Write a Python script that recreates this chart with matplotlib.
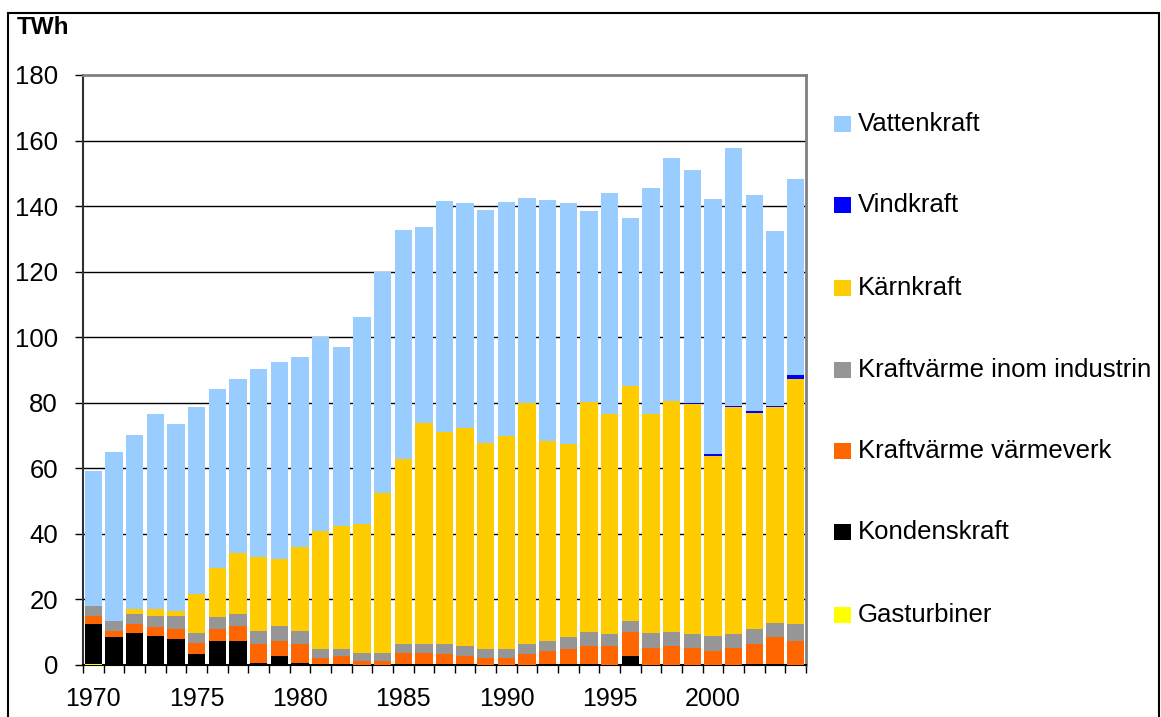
import matplotlib
matplotlib.use("Agg")
import matplotlib.pyplot as plt
import numpy as np
from matplotlib.patches import Rectangle

years = list(range(1970, 2005))

gasturbiner = [0.3, 0, 0, 0, 0, 0, 0, 0, 0, 0,
               0, 0, 0, 0, 0, 0, 0, 0, 0, 0,
               0, 0, 0, 0, 0, 0, 0, 0, 0, 0,
               0, 0, 0, 0, 0]
kondenskraft = [12.2, 8.5, 9.8, 8.9, 7.9, 3.4, 7.3, 7.3, 0.6, 2.7,
                0.6, 0.3, 0.3, 0.1, 0.1, 0.3, 0.3, 0.3, 0.3, 0.1,
                0.1, 0.1, 0.3, 0.3, 0.3, 0.1, 2.7, 0.1, 0.1, 0.1,
                0.1, 0.1, 0.3, 0.3, 0.1]
kv_varmeverk = [2.6, 1.9, 2.8, 2.7, 3.1, 3.3, 3.7, 4.6, 5.8, 4.6,
                5.8, 1.9, 2.4, 1.1, 1.1, 3.4, 3.4, 3.1, 2.4, 2.0,
                2.0, 3.3, 4.0, 4.6, 5.5, 5.7, 7.4, 5.1, 5.7, 5.1,
                4.2, 5.1, 6.1, 8.2, 7.2]
kv_industri = [2.9, 3.0, 3.0, 3.4, 4.0, 3.1, 3.6, 3.7, 4.0, 4.6,
               4.0, 2.7, 2.2, 2.5, 2.5, 2.7, 2.7, 3.0, 3.1, 2.8,
               2.8, 3.0, 3.0, 3.6, 4.3, 3.7, 3.3, 4.6, 4.3, 4.3,
               4.6, 4.3, 4.6, 4.3, 5.2]
karnkraft = [0, 0, 1.5, 2.1, 1.5, 12.0, 15.1, 18.6, 22.4, 20.4,
             25.6, 36.0, 37.6, 39.4, 48.8, 56.3, 67.3, 64.7, 66.5, 62.7,
             64.9, 73.4, 60.9, 58.9, 70.1, 67.0, 71.7, 66.9, 70.3, 70.0,
             54.9, 69.1, 66.0, 65.8, 74.9]
vindkraft = [0, 0, 0, 0, 0, 0, 0, 0, 0, 0,
             0, 0, 0, 0, 0, 0, 0, 0, 0, 0,
             0, 0, 0, 0, 0, 0, 0, 0, 0, 0.3,
             0.5, 0.4, 0.4, 0.4, 1.2]
vattenkraft = [41.1, 51.5, 53.0, 59.4, 57.0, 56.8, 54.4, 53.0, 57.5, 60.1,
               58.0, 59.1, 54.4, 63.0, 67.3, 70.0, 59.9, 70.6, 68.7, 71.3,
               71.5, 62.7, 73.7, 73.6, 58.4, 67.6, 51.3, 68.9, 74.3, 71.3,
               77.9, 78.8, 66.1, 53.5, 59.7]

series = [
    ("Gasturbiner", gasturbiner, "#FFFF00"),
    ("Kondenskraft", kondenskraft, "#000000"),
    ("Kraftvärme värmeverk", kv_varmeverk, "#FF6600"),
    ("Kraftvärme inom industrin", kv_industri, "#969696"),
    ("Kärnkraft", karnkraft, "#FFCC00"),
    ("Vindkraft", vindkraft, "#0000FF"),
    ("Vattenkraft", vattenkraft, "#99CCFF"),
]
legend_order = ["Vattenkraft", "Vindkraft", "Kärnkraft", "Kraftvärme inom industrin",
                "Kraftvärme värmeverk", "Kondenskraft", "Gasturbiner"]
year_labels = ["1970", "1975", "1980", "1985", "1990", "1995", "2000"]

plt.rcParams['font.family'] = ['Liberation Sans', 'DejaVu Sans']

W, H = 1161, 717
fig = plt.figure(figsize=(W / 100, H / 100), dpi=100)

def fx(px):
    return px / W

def fy(py):
    return 1 - py / H

# outer frame
fig.patches.append(Rectangle((fx(8), fy(740)), fx(1159) - fx(8), fy(13) - fy(740),
                             transform=fig.transFigure, fill=False,
                             edgecolor="black", linewidth=1.5))

ax = fig.add_axes([fx(83), fy(665), fx(806) - fx(83), fy(75) - fy(665)])

x = np.arange(len(years))
bottom = np.zeros(len(years))
for name, vals, col in series:
    v = np.array(vals, dtype=float)
    ax.bar(x, v, bottom=bottom, width=0.84, color=col, linewidth=0, zorder=3)
    bottom += v

ax.set_xlim(-0.5, len(years) - 0.5)
ax.set_ylim(0, 180)
ax.set_yticks(np.arange(0, 181, 20))
for yv in range(20, 180, 20):
    ax.axhline(yv, color="black", linewidth=1.0, zorder=2)

ax.set_xticks([years.index(int(s)) for s in year_labels])
ax.set_xticklabels(year_labels)
ax.set_xticks(np.arange(-0.5, len(years), 1.0), minor=True)
ax.tick_params(axis="x", which="major", length=0, pad=16, labelsize=18)
ax.tick_params(axis="x", which="minor", length=6, width=1, direction="out")
ax.tick_params(axis="y", length=6, width=1, direction="out", pad=12, labelsize=18.5)

for side in ["top", "right"]:
    ax.spines[side].set_color("#808080")
    ax.spines[side].set_linewidth(2)
ax.spines["left"].set_color("#303030")
ax.spines["left"].set_linewidth(1.5)
ax.spines["bottom"].set_color("black")
ax.spines["bottom"].set_linewidth(1.5)

fig.text(fx(17), fy(28), "TWh", fontsize=17.5, fontweight="bold", va="center", ha="left")

colors = {name: col for name, _, col in series}
leg_y = [124, 205, 288, 370, 451, 532, 615]
for name, yy in zip(legend_order, leg_y):
    fig.patches.append(Rectangle((fx(834), fy(yy + 8)), fx(851) - fx(834), fy(yy - 8) - fy(yy + 8),
                                 transform=fig.transFigure, facecolor=colors[name],
                                 edgecolor="none"))
    fig.text(fx(858), fy(yy), name, fontsize=18.5, va="center", ha="left")

fig.savefig("out.png", dpi=100)
